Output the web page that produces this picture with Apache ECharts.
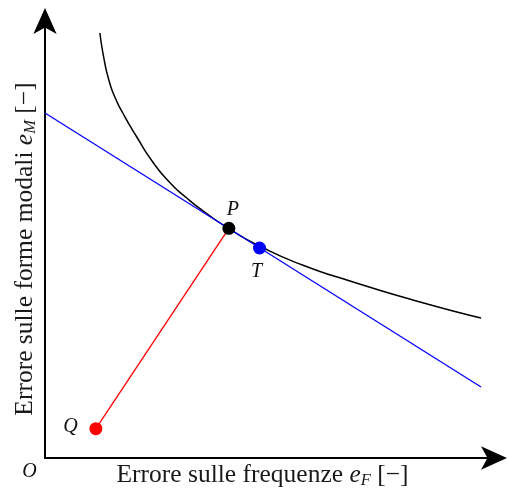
<!DOCTYPE html>
<html><head><meta charset="utf-8">
<script src="https://cdn.jsdelivr.net/npm/echarts@6/dist/echarts.min.js"></script>
<style>html,body{margin:0;padding:0;background:#fff}#c{width:509px;height:488px}</style>
</head><body><div id="c"></div>
<script>
// Pareto-like curve
const curveX = [1.220, 1.308, 1.419, 1.552, 1.729, 2.040, 2.395, 2.772, 3.149, 3.503, 4.080, 4.767, 5.721, 6.829, 8.315, 9.690];
const curveY = [9.703, 9.132, 8.630, 8.242, 7.877, 7.329, 6.758, 6.290, 5.936, 5.651, 5.242, 4.840, 4.406, 4.025, 3.568, 3.196];
// tangent line
const tangentX = [0, 9.690];
const tangentY = [7.877, 1.621];
// special points
const pointNames = ['P', 'T', 'Q'];
const pointX = [4.086, 4.767, 1.131];
const pointY = [5.244, 4.795, 0.669];
const pointColors = ['#000000', '#0000ff', '#ff0000'];
const originLabel = 'O';
const xTitleParts = ['Errore sulle frequenze ', 'e', 'F', ' [−]'];
const yTitleParts = ['Errore sulle forme modali ', 'e', 'M', ' [−]'];

const FONT = 'Liberation Serif';
const zip = (xs, ys) => xs.map((x, i) => [x, ys[i]]);

const rich = {
  r: {fontFamily: FONT, fontSize: 25.5, lineHeight: 28, verticalAlign: 'middle', fill: '#1a1a1a'},
  i: {fontFamily: FONT, fontSize: 25.5, fontStyle: 'italic', lineHeight: 28, verticalAlign: 'middle', fill: '#1a1a1a'},
  s: {fontFamily: FONT, fontSize: 16.5, fontStyle: 'italic', lineHeight: 15, verticalAlign: 'bottom', fill: '#1a1a1a'}
};
const richText = p => `{r|${p[0]}}{i|${p[1]}}{s|${p[2]}}{r|${p[3]}}`;

const labelOffsets = [[4, -19], [-3, 24], [-25.5, -1.7]];

const axisLineStyle = {show: true, onZero: false, symbol: ['none', 'arrow'], symbolSize: [17.5, 26], symbolOffset: [0, 12],
  lineStyle: {color: '#000', width: 2}};

const chart = echarts.init(document.getElementById('c'), null, {renderer: 'canvas'});
chart.setOption({
  animation: false,
  backgroundColor: '#fff',
  grid: {left: 45, right: 14, top: 20, bottom: 30, containLabel: false},
  xAxis: {type: 'value', min: 0, max: 10, axisLine: axisLineStyle,
    axisTick: {show: false}, axisLabel: {show: false}, splitLine: {show: false}},
  yAxis: {type: 'value', min: 0, max: 10, axisLine: axisLineStyle,
    axisTick: {show: false}, axisLabel: {show: false}, splitLine: {show: false}},
  series: [
    {type: 'line', data: zip(curveX, curveY), smooth: 0.6, showSymbol: false, symbol: 'none',
     lineStyle: {color: '#000', width: 1.5}, z: 2},
    {type: 'line', data: zip(tangentX, tangentY), showSymbol: false, symbol: 'none',
     lineStyle: {color: '#0000ff', width: 1.3}, z: 3},
    {type: 'line', data: [[pointX[2], pointY[2]], [pointX[0], pointY[0]]], showSymbol: false, symbol: 'none',
     lineStyle: {color: '#ff0000', width: 1.3}, z: 3},
    {type: 'scatter', symbolSize: 13, z: 5,
     data: pointNames.map((n, i) => ({
       name: n, value: [pointX[i], pointY[i]],
       itemStyle: {color: pointColors[i], opacity: 1},
       label: {show: true, formatter: n, position: 'inside', offset: labelOffsets[i],
               fontFamily: FONT, fontStyle: 'italic', fontSize: 20, color: '#111'}
     }))}
  ],
  graphic: [
    {type: 'text', x: 29.5, y: 471.5, style: {text: originLabel, font: 'italic 20px "Liberation Serif"', fill: '#111', align: 'center', verticalAlign: 'middle'}},
    {type: 'text', x: 262.5, y: 475.5, style: {text: richText(xTitleParts), rich: rich, align: 'center', verticalAlign: 'middle'}},
    {type: 'text', x: 25.5, y: 249, rotation: Math.PI / 2, style: {text: richText(yTitleParts), rich: rich, align: 'center', verticalAlign: 'middle'}}
  ]
});
</script>
</body></html>
